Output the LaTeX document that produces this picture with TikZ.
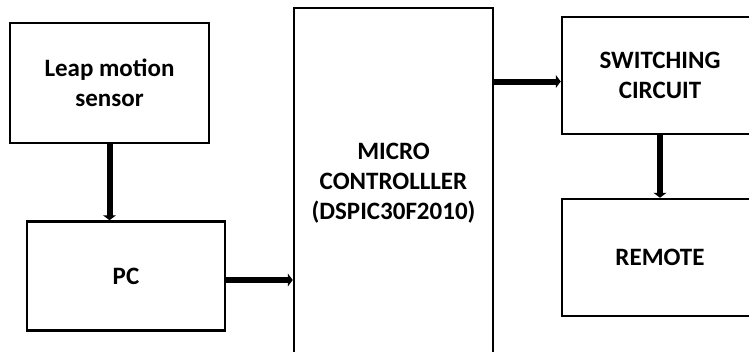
\documentclass[tikz,border=0pt]{standalone}
\usepackage{fontspec}
\setmainfont{Carlito}
\usetikzlibrary{arrows.meta}
\tikzset{
  blk/.style={draw, line width=2.5pt, inner sep=0pt, align=center,
    font=\bfseries\fontsize{25}{30}\selectfont},
  arr/.style={line width=6pt, -{Triangle[length=5pt,width=13pt]}}
}
\begin{document}
\begin{tikzpicture}[x=1pt,y=-1pt]
\useasboundingbox (0,0) rectangle (749,351);
\clip (0,0) rectangle (749,351);
\node[blk, minimum width=199pt, minimum height=120pt] (leap) at (109.5,83) {Leap motion\\sensor};
\node[blk, minimum width=198pt, minimum height=109pt] (pc) at (126,276) {PC};
\node[blk, minimum width=199pt, minimum height=350pt] (mc) at (393.5,183) {MICRO\\CONTROLLLER\\(DSPIC30F2010)};
\node[blk, minimum width=196pt, minimum height=117pt] (sw) at (660,75.5) {SWITCHING\\CIRCUIT};
\node[blk, minimum width=196pt, minimum height=117pt] (rem) at (660,257.5) {REMOTE};
\coordinate (swin) at ([yshift=-6pt]sw.west);
\draw[arr] (leap.south) -- (leap.south |- pc.north);
\draw[arr] ([yshift=-4pt]pc.east) -- ([yshift=-4pt]pc.east -| mc.west);
\draw[arr] (swin -| mc.east) -- (swin);
\draw[arr] (sw.south) -- (rem.north);
\end{tikzpicture}
\end{document}
